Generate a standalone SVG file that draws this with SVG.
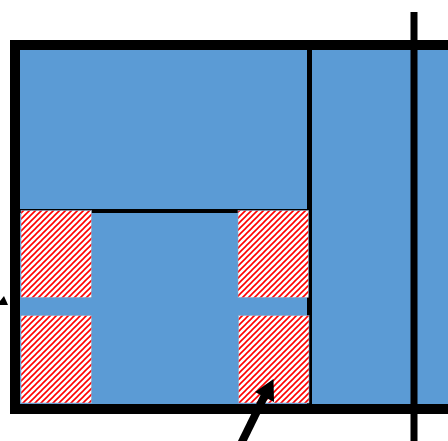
<svg xmlns="http://www.w3.org/2000/svg" width="448" height="441" viewBox="0 0 448 441">
  <defs>
    <pattern id="hatch" width="6" height="6" patternUnits="userSpaceOnUse">
      <rect width="6" height="6" fill="#ffffff"/>
      <path d="M-1,1 L1,-1 M0,6 L6,0 M5,7 L7,5" stroke="#ff0000" stroke-width="1.6"/>
    </pattern>
    <style>
      .hatch { fill: url(#hatch); stroke: #8fa8c8; stroke-width: 0.6; }
      .wall { stroke: #000000; fill: none; }
    </style>
  </defs>
  <rect width="448" height="441" fill="#ffffff"/>
  <g id="outer-frame">
    <rect x="15" y="45" width="460" height="364" fill="#5b9bd5" stroke="#000" stroke-width="10"/>
  </g>
  <g id="inner-walls">
    <line class="wall" x1="309.5" y1="50" x2="309.5" y2="404" stroke-width="5"/>
    <line class="wall" x1="20" y1="211" x2="309" y2="211" stroke-width="4"/>
    <line class="wall" x1="414" y1="12" x2="414" y2="441" stroke-width="7"/>
  </g>
  <g id="hatch-top-left"><rect class="hatch" x="21" y="210.5" width="70.5" height="87"/></g>
  <g id="hatch-top-right"><rect class="hatch" x="238" y="210.5" width="70.5" height="87"/></g>
  <g id="hatch-bottom-left"><rect class="hatch" x="21" y="315.5" width="70.5" height="87.5"/></g>
  <g id="hatch-bottom-right"><rect class="hatch" x="238.5" y="315.5" width="70.5" height="87.5"/></g>
  <g id="connectors">
    <line x1="237" y1="452" x2="265" y2="395" stroke="#000" stroke-width="8"/>
    <polygon points="273.5,379 255,392 274,402" fill="#000"/>
    <polygon points="4,296 8,305 0,305 0,301" fill="#000"/>
  </g>
</svg>
